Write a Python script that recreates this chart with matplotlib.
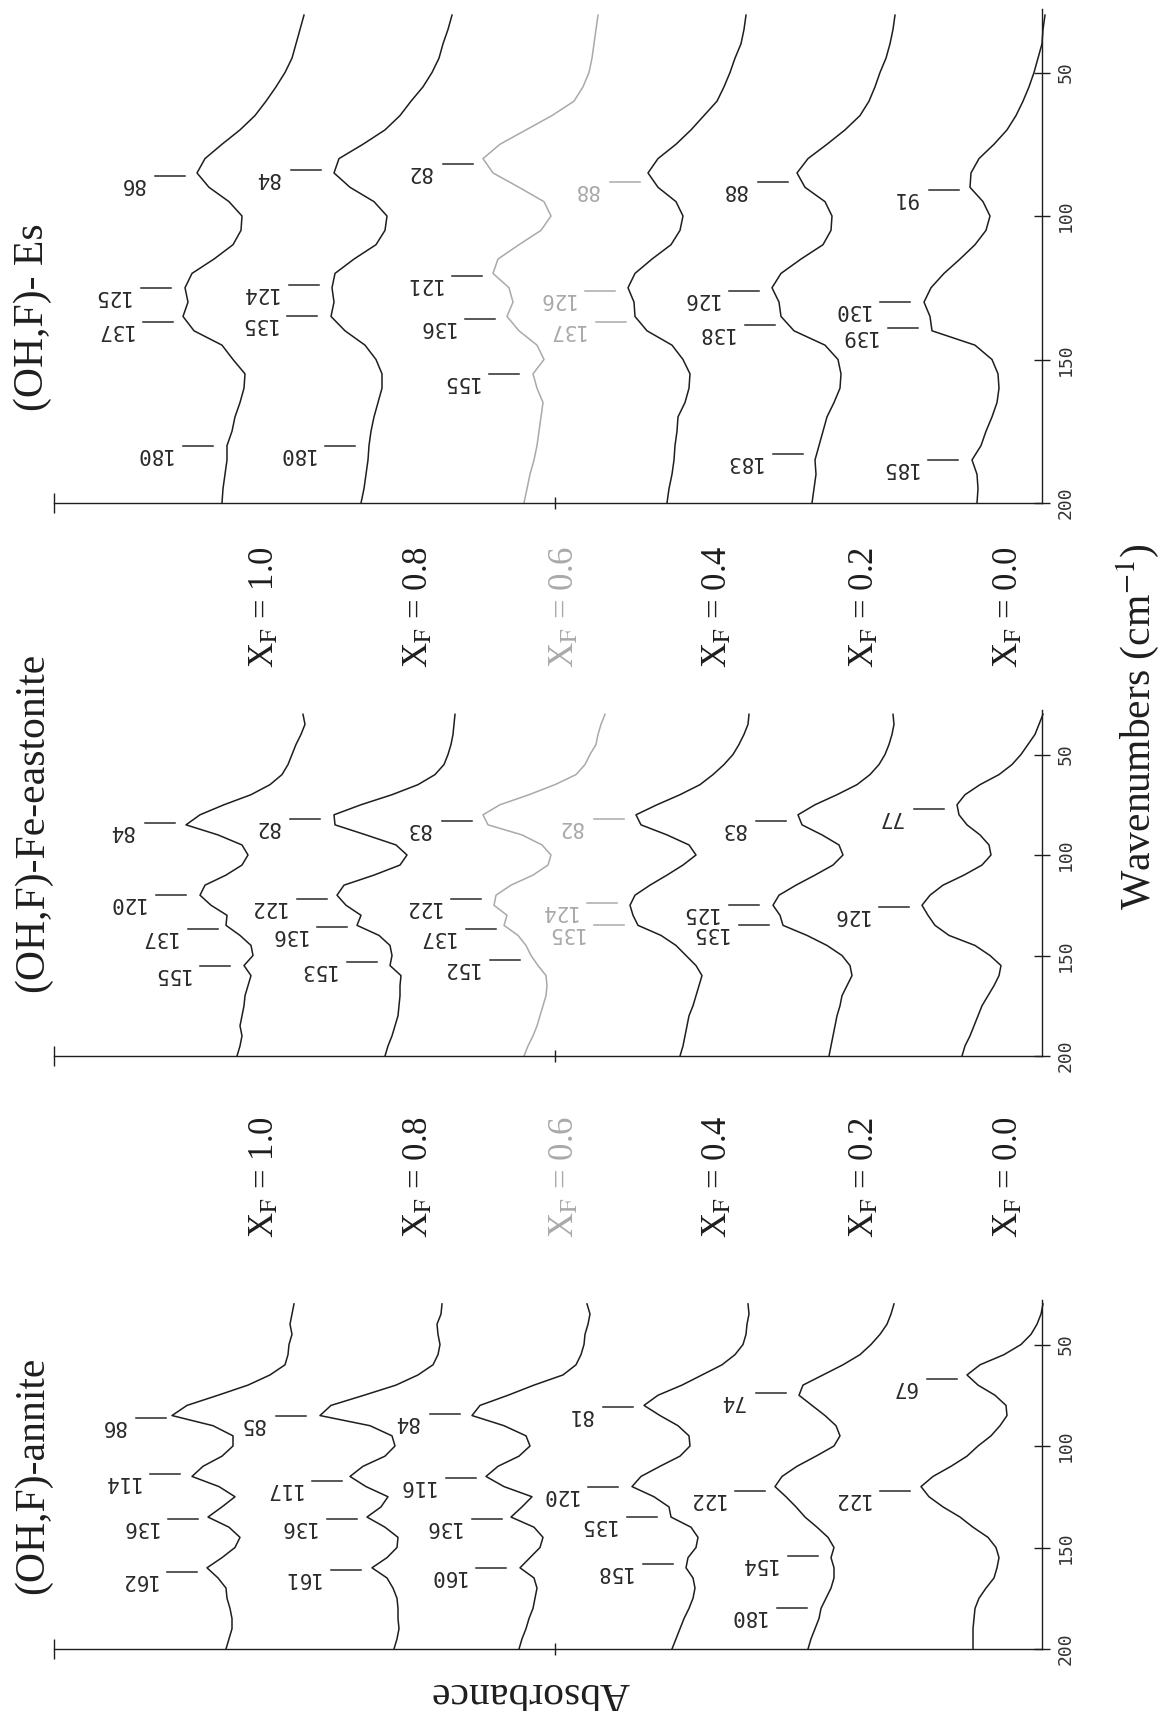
import numpy as np
import matplotlib.pyplot as plt

# region DATA
# wavenumber grid (cm-1) on which every trace was read off the figure
wavenumber = [200, 195, 190, 185, 180, 175, 170, 165, 160, 155, 150, 145,
              140, 135, 130, 125, 120, 115, 110, 105, 100, 95, 90, 85, 80,
              75, 70, 65, 60, 55, 50, 45, 40, 35, 30]

xf_values = ["1.0", "0.8", "0.6", "0.4", "0.2", "0.0"]
panel_names = ["(OH,F)- Es", "(OH,F)-Fe-eastonite", "(OH,F)-annite"]

# relative absorbance (arbitrary units), one row per X_F, from 1.0 to 0.0
es_absorbance = [
    [0.85, 0.84, 0.82, 0.80, 0.80, 0.75, 0.72, 0.67, 0.63, 0.62, 0.74, 0.85, 1.13, 1.24, 1.19, 1.22, 1.15, 0.93,
     0.74, 0.66, 0.65, 0.78, 0.98, 1.10, 1.02, 0.85, 0.67, 0.52, 0.41, 0.31, 0.22, 0.15, 0.11, 0.07, 0.03],
    [0.93, 0.90, 0.88, 0.86, 0.85, 0.83, 0.80, 0.76, 0.72, 0.72, 0.78, 0.89, 1.09, 1.23, 1.20, 1.22, 1.19, 1.00,
     0.78, 0.69, 0.67, 0.80, 1.04, 1.20, 1.15, 0.91, 0.69, 0.54, 0.43, 0.31, 0.22, 0.15, 0.11, 0.06, 0.02],
    [0.76, 0.73, 0.70, 0.66, 0.63, 0.61, 0.59, 0.57, 0.63, 0.67, 0.56, 0.63, 0.81, 0.93, 0.87, 0.91, 1.07, 1.02,
     0.81, 0.59, 0.49, 0.56, 0.81, 1.07, 1.17, 1.00, 0.74, 0.48, 0.26, 0.17, 0.11, 0.08, 0.06, 0.04, 0.02],
    [0.81, 0.79, 0.76, 0.74, 0.73, 0.71, 0.70, 0.63, 0.59, 0.58, 0.65, 0.76, 1.01, 1.13, 1.14, 1.20, 1.13, 0.96,
     0.77, 0.68, 0.65, 0.72, 0.90, 1.00, 0.90, 0.72, 0.57, 0.44, 0.31, 0.24, 0.18, 0.13, 0.07, 0.04, 0.02],
    [0.85, 0.83, 0.81, 0.82, 0.78, 0.74, 0.70, 0.63, 0.57, 0.56, 0.59, 0.72, 1.03, 1.16, 1.18, 1.25, 1.16, 0.96,
     0.74, 0.66, 0.65, 0.72, 0.92, 1.00, 0.89, 0.70, 0.52, 0.37, 0.28, 0.22, 0.17, 0.11, 0.07, 0.04, 0.02],
    [0.69, 0.68, 0.69, 0.74, 0.65, 0.60, 0.54, 0.49, 0.47, 0.48, 0.54, 0.71, 1.14, 1.16, 1.22, 1.15, 1.02, 0.86,
     0.71, 0.60, 0.56, 0.63, 0.76, 0.75, 0.67, 0.52, 0.39, 0.30, 0.23, 0.17, 0.12, 0.08, 0.04, 0.03, 0.01],
]
fe_absorbance = [
    [0.70, 0.67, 0.65, 0.67, 0.65, 0.63, 0.62, 0.59, 0.56, 0.63, 0.54, 0.56, 0.67, 0.81, 0.80, 0.96, 1.07, 1.02,
     0.81, 0.65, 0.59, 0.65, 0.89, 1.21, 1.07, 0.83, 0.56, 0.37, 0.25, 0.19, 0.15, 0.11, 0.06, 0.02, 0.04],
    [0.72, 0.69, 0.65, 0.62, 0.59, 0.58, 0.57, 0.57, 0.56, 0.67, 0.65, 0.67, 0.78, 1.00, 0.96, 1.11, 1.20, 1.13,
     0.83, 0.57, 0.50, 0.61, 0.91, 1.22, 1.23, 0.96, 0.65, 0.39, 0.22, 0.13, 0.09, 0.06, 0.04, 0.03, 0.02],
    [0.83, 0.79, 0.74, 0.70, 0.67, 0.64, 0.61, 0.60, 0.61, 0.69, 0.76, 0.81, 0.89, 1.03, 1.00, 1.13, 1.11, 0.96,
     0.74, 0.59, 0.56, 0.65, 0.85, 1.19, 1.24, 1.07, 0.78, 0.52, 0.31, 0.22, 0.17, 0.11, 0.09, 0.06, 0.02],
    [0.70, 0.67, 0.65, 0.63, 0.61, 0.57, 0.54, 0.51, 0.48, 0.54, 0.64, 0.74, 0.89, 1.12, 1.17, 1.20, 1.15, 1.00,
     0.83, 0.67, 0.54, 0.61, 0.83, 1.09, 1.14, 0.93, 0.70, 0.50, 0.37, 0.26, 0.17, 0.11, 0.06, 0.02, 0.01],
    [0.67, 0.65, 0.63, 0.61, 0.59, 0.56, 0.54, 0.49, 0.44, 0.46, 0.54, 0.69, 0.89, 1.13, 1.16, 1.23, 1.17, 1.00,
     0.81, 0.63, 0.53, 0.57, 0.74, 0.94, 0.98, 0.81, 0.59, 0.39, 0.26, 0.17, 0.11, 0.07, 0.04, 0.02, 0.03],
    [0.83, 0.80, 0.75, 0.71, 0.67, 0.63, 0.57, 0.51, 0.46, 0.44, 0.55, 0.70, 0.96, 1.10, 1.17, 1.23, 1.15, 1.02,
     0.81, 0.63, 0.54, 0.56, 0.65, 0.78, 0.86, 0.88, 0.80, 0.65, 0.46, 0.33, 0.24, 0.17, 0.10, 0.06, 0.02],
]
ann_absorbance = [
    [0.70, 0.67, 0.64, 0.64, 0.66, 0.69, 0.70, 0.78, 0.89, 0.74, 0.61, 0.56, 0.67, 0.88, 0.74, 0.61, 0.77, 1.04,
     0.93, 0.74, 0.63, 0.63, 0.83, 1.24, 1.09, 0.78, 0.48, 0.26, 0.11, 0.08, 0.07, 0.04, 0.06, 0.04, 0.02],
    [0.50, 0.47, 0.45, 0.46, 0.46, 0.47, 0.51, 0.57, 0.72, 0.57, 0.47, 0.46, 0.59, 0.77, 0.63, 0.56, 0.78, 0.94,
     0.81, 0.59, 0.49, 0.52, 0.74, 1.24, 1.13, 0.80, 0.48, 0.26, 0.11, 0.06, 0.04, 0.06, 0.07, 0.03, 0.02],
    [0.72, 0.69, 0.65, 0.62, 0.58, 0.56, 0.54, 0.57, 0.71, 0.61, 0.51, 0.48, 0.57, 0.80, 0.69, 0.59, 0.87, 1.05,
     0.93, 0.72, 0.61, 0.65, 0.87, 1.19, 1.11, 0.83, 0.57, 0.28, 0.15, 0.10, 0.07, 0.06, 0.03, 0.01, 0.04],
    [0.80, 0.76, 0.72, 0.68, 0.63, 0.59, 0.57, 0.59, 0.66, 0.64, 0.56, 0.54, 0.61, 0.81, 0.83, 0.98, 1.20, 1.11,
     0.92, 0.72, 0.62, 0.63, 0.74, 0.92, 1.08, 0.94, 0.70, 0.50, 0.30, 0.17, 0.09, 0.06, 0.05, 0.03, 0.04],
    [0.89, 0.86, 0.82, 0.78, 0.76, 0.71, 0.66, 0.63, 0.63, 0.66, 0.63, 0.69, 0.80, 0.92, 1.01, 1.11, 1.22, 1.15,
     1.00, 0.81, 0.63, 0.57, 0.61, 0.72, 0.85, 0.98, 0.94, 0.74, 0.54, 0.37, 0.26, 0.17, 0.10, 0.06, 0.03],
    [0.71, 0.71, 0.71, 0.70, 0.69, 0.65, 0.58, 0.50, 0.47, 0.45, 0.48, 0.56, 0.71, 0.84, 1.01, 1.15, 1.23, 1.11,
     0.93, 0.77, 0.66, 0.53, 0.44, 0.37, 0.38, 0.49, 0.66, 0.77, 0.64, 0.40, 0.23, 0.13, 0.07, 0.03, 0.01],
]

# labelled band positions (cm-1) per trace
es_peaks = [[86, 125, 137, 180], [84, 124, 135, 180], [82, 121, 136, 155],
            [88, 126, 137], [88, 126, 138, 183], [91, 130, 139, 185]]
fe_peaks = [[84, 120, 137, 155], [82, 122, 136, 153], [83, 122, 137, 152],
            [82, 124, 135], [83, 125, 135], [77, 126]]
ann_peaks = [[86, 114, 136, 162], [85, 117, 136, 161], [84, 116, 136, 160],
             [81, 120, 135, 158], [74, 122, 154, 180], [67, 122]]
# endregion

# region LAYOUT
W, H = 1158, 1711
AXIS_X = 1042          # pixel column of the wavenumber axis
PX_PER_UNIT = 100.0    # horizontal pixels per absorbance unit
DARK = '#1e1e1e'
FAINT = '#a9a9a9'
SERIF = 'Liberation Serif'
MONO = 'DejaVu Sans Mono'

plt.rcParams['mathtext.fontset'] = 'stix'

panels = [
    dict(band=(0, 545), y200=503, ppc=2.87, title_wn=168,
         offsets=[7.35, 5.88, 4.42, 2.94, 1.45, -0.04], faint_line=[2], faint_lab=[3]),
    dict(band=(660, 1090), y200=1056, ppc=2.01, title_wn=168,
         offsets=[7.35, 5.85, 4.35, 2.92, 1.46, -0.03], faint_line=[2], faint_lab=[3]),
    dict(band=(1250, 1711), y200=1649, ppc=2.03, title_wn=173,
         offsets=[7.46, 5.98, 4.51, 2.90, 1.45, -0.02], faint_line=[], faint_lab=[]),
]
xf_label_x = [265, 419, 565, 718, 865, 1009]
xf_label_y = [607, 1177]
# endregion

# region PLOT
fig = plt.figure(figsize=(W / 100, H / 100), dpi=100, facecolor='white')
wn = np.array(wavenumber, dtype=float)

for name, absorb, peaks, lay in zip(panel_names,
                                    [es_absorbance, fe_absorbance, ann_absorbance],
                                    [es_peaks, fe_peaks, ann_peaks], panels):
    top, bot = lay['band']
    ax = fig.add_axes([0, 1 - bot / H, 1, (bot - top) / H])
    ax.patch.set_visible(False)
    ax.set_xlim(AXIS_X / PX_PER_UNIT, (AXIS_X - W) / PX_PER_UNIT)
    ax.set_ylim(200 - (lay['y200'] - bot) / lay['ppc'], 200 - (lay['y200'] - top) / lay['ppc'])

    # axes: wavenumber axis on the right, absorbance axis along 200 cm-1
    ax.spines['top'].set_visible(False)
    ax.spines['left'].set_visible(False)
    ax.spines['right'].set_position(('data', 0))
    ax.spines['right'].set_bounds(28, 200)
    ax.spines['bottom'].set_position(('data', 200))
    ax.spines['bottom'].set_bounds(0, (AXIS_X - 54) / PX_PER_UNIT)
    for s in ['right', 'bottom']:
        ax.spines[s].set_color(DARK)
        ax.spines[s].set_linewidth(1.0)

    ax.yaxis.set_ticks_position('right')
    ax.set_yticks([50, 100, 150, 200])
    ax.tick_params(axis='y', direction='inout', length=11, width=1.0, color=DARK,
                   labelrotation=90, labelsize=13, pad=5, labelcolor='#333333')
    for lbl in ax.get_yticklabels():
        lbl.set_family(MONO)
        lbl.set_va('center')

    ax.xaxis.set_ticks_position('bottom')
    ax.set_xticks([(AXIS_X - 54) / PX_PER_UNIT])
    ax.set_xticks([(AXIS_X - 555) / PX_PER_UNIT], minor=True)
    ax.tick_params(axis='x', which='major', direction='inout', length=15, width=1.0,
                   color=DARK, labelbottom=False)
    ax.tick_params(axis='x', which='minor', direction='inout', length=8, width=1.0,
                   color=DARK, labelbottom=False)

    for i, (row, off) in enumerate(zip(absorb, lay['offsets'])):
        vals = np.array(row)
        col = FAINT if i in lay['faint_line'] else DARK
        ax.plot(off + vals, wn, color=col, lw=1.1, solid_joinstyle='round')

        lab_col = FAINT if i in lay['faint_lab'] else '#2a2a2a'
        for p in peaks[i]:
            a_p = np.interp(p, wn[::-1], vals[::-1])
            x0 = off + a_p + 0.14
            x1 = x0 + 0.30
            ax.plot([x0, x1], [p, p], color=lab_col, lw=1.1)
            ax.annotate(str(p), xy=(x1, p), xytext=(-11, -8), textcoords='offset pixels',
                        rotation=180, ha='right', va='center', fontsize=15,
                        family=MONO, color=lab_col)

    ax.text((AXIS_X - 33) / PX_PER_UNIT, lay['title_wn'], name, rotation=90,
            ha='center', va='bottom', fontsize=30, family=SERIF, color=DARK)

# composition labels between panels
for k, xf in enumerate(xf_values):
    col = FAINT if xf == "0.6" else DARK
    for yc in xf_label_y:
        fig.text(xf_label_x[k] / W, 1 - yc / H, r'X$_\mathrm{F}$ = ' + xf, rotation=90,
                 ha='center', va='center', fontsize=25, family=SERIF, color=col)

fig.text(1138 / W, 1 - 727 / H, r'Wavenumbers (cm$^{-1}$)', rotation=90,
         ha='center', va='center', fontsize=30, family=SERIF, color=DARK)
fig.text(530 / W, 1 - 1693 / H, 'Absorbance', rotation=180,
         ha='center', va='center', fontsize=30, family=SERIF, color=DARK)

fig.savefig('out.png', dpi=100, facecolor='white')
plt.close('all')
# endregion
